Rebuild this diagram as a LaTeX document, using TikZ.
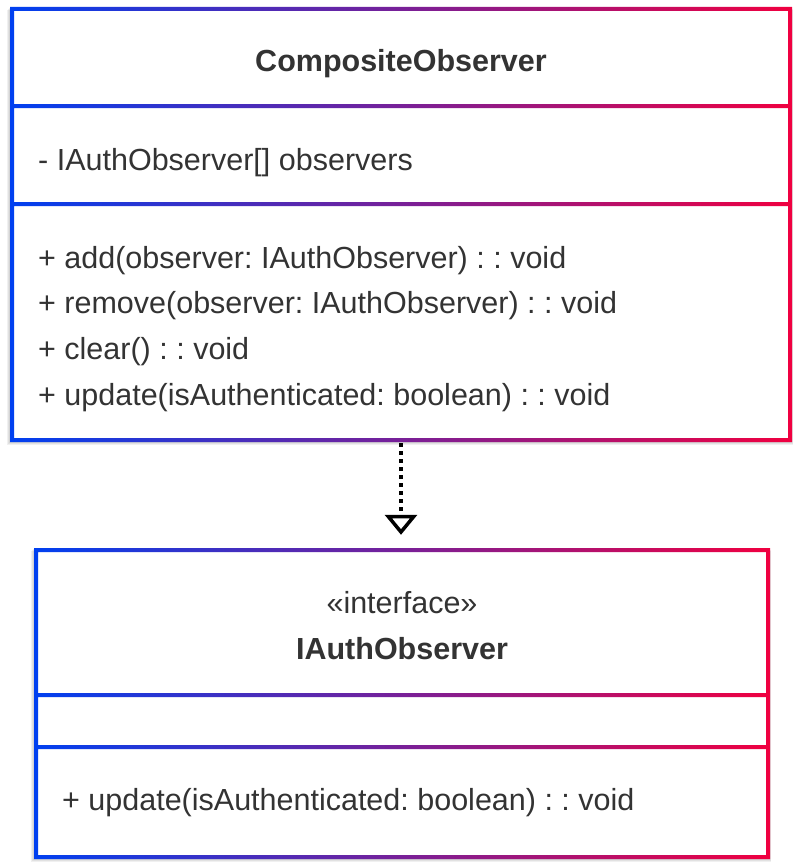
\documentclass[tikz,border=0pt]{standalone}
\usepackage{fontspec}
\setmainfont{Liberation Sans}
\usetikzlibrary{arrows.meta}
\definecolor{gblue}{RGB}{0,64,240}
\definecolor{gred}{RGB}{240,0,64}
\definecolor{txt}{RGB}{51,51,51}
\frenchspacing
\tikzset{
  x=1pt, y=-1pt,
  boxshadow/.style={fill=black, opacity=0.06},
  umltext/.style={inner sep=0pt, text=txt, font=\fontsize{30.5}{36}\selectfont},
  umltitle/.style={umltext, font=\fontsize{30.5}{36}\selectfont\bfseries},
  realize/.style={line width=4pt, dash pattern=on 4pt off 4pt, black,
    -{Triangle[open, width=32pt, length=20pt, line width=3.5pt]}},
}
\begin{document}
\begin{tikzpicture}
\useasboundingbox (0,0) rectangle (793,867);
\fill[white] (0,0) rectangle (793,867);
% shadows
\foreach \d in {1,2,3}{
  \fill[boxshadow] (10-\d,7+\d) rectangle (792+\d*0.3,442+\d);
  \fill[boxshadow] (34-\d,548+\d) rectangle (770+\d*0.3,859+\d);
}
\fill[white] (10,7) rectangle (792,442);
\fill[white] (34,548) rectangle (770,859);
% box 1 frame (one path so the shading spans the whole box)
\shade[left color=gblue, right color=gred]
  (10,7) rectangle (792,11)
  (10,438) rectangle (792,442)
  (10,11) rectangle (14,438)
  (788,11) rectangle (792,438)
  (14,104) rectangle (788,108)
  (14,202) rectangle (788,206);
% box 2 frame
\shade[left color=gblue, right color=gred]
  (34,548) rectangle (770,552)
  (34,855) rectangle (770,859)
  (34,552) rectangle (38,855)
  (766,552) rectangle (770,855)
  (38,693) rectangle (766,697)
  (38,745) rectangle (766,749);
% named box nodes
\node[minimum width=782pt, minimum height=435pt, inner sep=0pt] (co) at (401,224.5) {};
\node[minimum width=736pt, minimum height=311pt, inner sep=0pt] (iao) at (402,703.5) {};
% texts
\node[umltitle, anchor=base] (cotitle) at (401,71) {CompositeObserver};
\node[umltext, anchor=base west] (coattr) at (38,170) {- IAuthObserver[] observers};
\node[umltext, anchor=base west] (m1) at (38,268) {+ add(observer: IAuthObserver) : : void};
\node[umltext, anchor=base west] (m2) at (38,313) {+ remove(observer: IAuthObserver) : : void};
\node[umltext, anchor=base west] (m3) at (38,359) {+ clear() : : void};
\node[umltext, anchor=base west] (m4) at (38,405) {+ update(isAuthenticated: boolean) : : void};
\node[umltext, anchor=base] (stereo) at (402,613) {«interface»};
\node[umltitle, anchor=base] (iaotitle) at (402,659) {IAuthObserver};
\node[umltext, anchor=base west] (im1) at (62,810) {+ update(isAuthenticated: boolean) : : void};
% realization
\draw[realize, shorten <=1pt, shorten >=13pt] (co.south) -- (co.south |- iao.north);
\end{tikzpicture}
\end{document}
